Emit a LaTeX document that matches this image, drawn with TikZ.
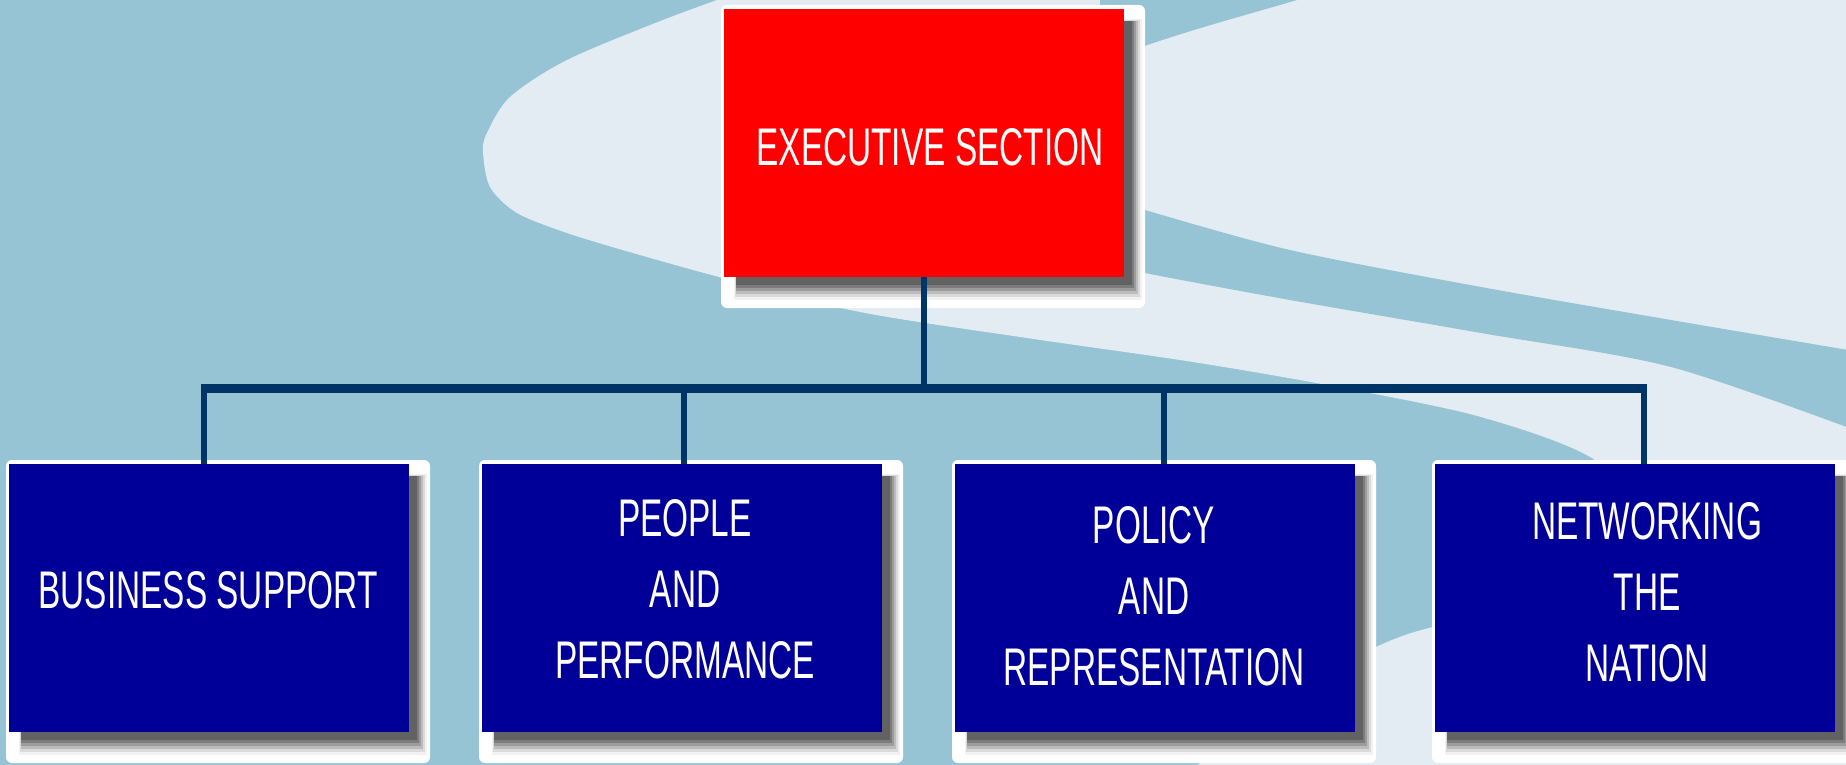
\documentclass[tikz,border=0pt]{standalone}
\usepackage{fontspec}
\newfontfamily\boxfont[FakeStretch=0.63]{Liberation Sans}
\usetikzlibrary{calc}
\definecolor{bgdark}{HTML}{96C4D4}
\definecolor{bglight}{HTML}{E3ECF2}
\definecolor{boxblue}{HTML}{000099}
\definecolor{boxred}{HTML}{FF0000}
\definecolor{linecol}{HTML}{003366}
\definecolor{shA}{HTML}{F2F2F2}
\definecolor{shB}{HTML}{DADADA}
\definecolor{shC}{HTML}{BCBCBC}
\definecolor{shD}{HTML}{9C9C9C}
\definecolor{shE}{HTML}{7C7C7C}
\definecolor{shF}{HTML}{626262}
\newcommand\boxshadow[2]{%
  \fill[white, rounded corners=6pt] (#1-3,#2-4) rectangle (#1+421,#2+299);
  \fill[shA] (#1+10,#2+10) rectangle (#1+418,#2+291);
  \fill[shB] (#1+11,#2+11) rectangle (#1+416,#2+288);
  \fill[shC] (#1+12,#2+12) rectangle (#1+414,#2+285);
  \fill[shD] (#1+12,#2+12) rectangle (#1+412,#2+282);
  \fill[shE] (#1+12,#2+12) rectangle (#1+410,#2+279);
  \fill[shF] (#1+12,#2+12) rectangle (#1+408,#2+276);
}
\begin{document}
\begin{tikzpicture}[x=1pt,y=-1pt,
  orgbox/.style={rectangle, minimum width=400pt, minimum height=268pt, inner sep=0pt, draw=none},
  boxtext/.style={text=white, align=center, inner sep=0pt, font=\boxfont\fontsize{53}{71}\selectfont},
  bar/.style={draw=linecol, line width=9pt},
  drop/.style={draw=linecol, line width=6pt},
]
\useasboundingbox (0,0) rectangle (1846,765);
% background
\begin{scope}
\clip (0,0) rectangle (1846,765);
\fill[bgdark] (0,0) rectangle (1846,765);
\fill[bglight] (1900,-20) -- (760,-20) -- plot[smooth] coordinates {(745,-10) (663,20) (567,60) (510,97) (487,133) (483,152) (490,187) (517,213) (567,233) (633,253) (723,278) (860,312) (1027,338) (1193,362) (1338,387) (1481,417) (1595,460) (1650,530) (1610,595) (1500,618) (1433,627) (1376,647) (1280,700) (1180,780)} -- (1150,800) -- (1900,800) -- cycle;
\fill[bgdark] plot[smooth] coordinates {(1100,195) (1145,210) (1290,250) (1481,287) (1671,320) (1860,352)} -- plot[smooth] coordinates {(1860,432) (1671,367) (1481,333) (1290,300) (1145,273) (1100,262)} -- cycle;
\fill[bgdark] (1100,-10) -- (1330,-10) .. controls (1250,15) and (1190,28) .. (1100,62) -- cycle;
\end{scope}
% boxes
\boxshadow{724}{9}
\node[orgbox, fill=boxred] (exec) at (924,143) {};
\boxshadow{9}{464}
\node[orgbox, fill=boxblue] (bs) at (209,598) {};
\boxshadow{482}{464}
\node[orgbox, fill=boxblue] (pp) at (682,598) {};
\boxshadow{955}{464}
\node[orgbox, fill=boxblue] (pr) at (1155,598) {};
\boxshadow{1435}{464}
\node[orgbox, fill=boxblue] (nn) at (1635,598) {};
% texts
\node[boxtext] (exec-t) at (930,147) {EXECUTIVE SECTION};
\node[boxtext] (bs-t) at (208,590) {BUSINESS SUPPORT};
\node[boxtext] (pp-t) at (685,589) {PEOPLE\\AND\\PERFORMANCE};
\node[boxtext] (pr-t) at (1154,596) {POLICY\\AND\\REPRESENTATION};
\node[boxtext] (nn-t) at (1647,592) {NETWORKING\\THE\\NATION};
% connectors
\coordinate (j) at (924,388.5);
\coordinate (bl) at (201,388.5);
\coordinate (br) at (1647,388.5);
\coordinate (c1) at (204,388.5);
\coordinate (c2) at (684,388.5);
\coordinate (c3) at (1164,388.5);
\coordinate (c4) at (1644,388.5);
\draw[drop] (exec.south -| j) -- (j);
\draw[bar] (bl) -- (br);
\draw[drop] (c1) -- (c1 |- bs.north);
\draw[drop] (c2) -- (c2 |- pp.north);
\draw[drop] (c3) -- (c3 |- pr.north);
\draw[drop] (c4) -- (c4 |- nn.north);
\end{tikzpicture}
\end{document}
